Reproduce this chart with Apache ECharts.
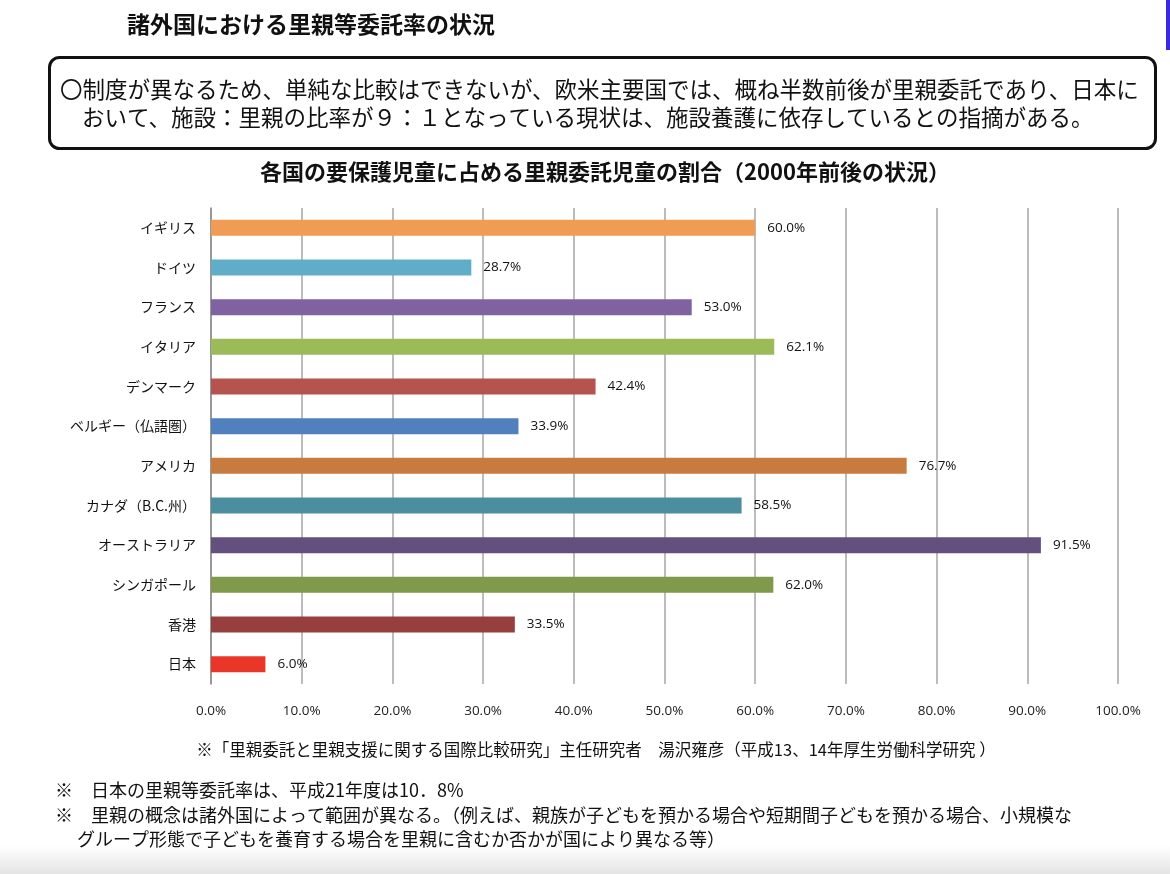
<!DOCTYPE html>
<html>
<head>
<meta charset="utf-8">
<script src="https://cdn.jsdelivr.net/npm/echarts@6/dist/echarts.min.js"></script>
<style>
html,body{margin:0;padding:0;background:#fff;}
#chart{width:1170px;height:874px;}
</style>
</head>
<body>
<div id="chart"></div>
<script>
const categories = ['イギリス','ドイツ','フランス','イタリア','デンマーク','ベルギー（仏語圏）','アメリカ','カナダ（B.C.州）','オーストラリア','シンガポール','香港','日本'];
const values = [60.0, 28.7, 53.0, 62.1, 42.4, 33.9, 76.7, 58.5, 91.5, 62.0, 33.5, 6.0];
const barColors = ['#F09C54','#5FADC9','#7F62A1','#9BBB59','#B5534F','#5080BE','#C87B3F','#4A8E9F','#63507F','#7F9A4A','#963F3E','#EA3628'];
const xTicks = [0,10,20,30,40,50,60,70,80,90,100];

const JP = '"Noto Sans CJK JP", sans-serif';
const chart = echarts.init(document.getElementById('chart'), null, {renderer:'canvas'});
chart.setOption({
  backgroundColor:'#fff',
  animation:false,
  grid:{left:211, right:52, top:208, bottom:190, containLabel:false},
  xAxis:{
    type:'value', min:xTicks[0], max:xTicks[xTicks.length-1], interval:10,
    axisLine:{show:false}, axisTick:{show:false},
    splitLine:{show:true, lineStyle:{color:'#A6A6A6', width:1.5}},
    axisLabel:{margin:20, fontSize:13.5, color:'#222', fontFamily:'"Open Sans", sans-serif',
      formatter:v=>v.toFixed(1)+'%'}
  },
  yAxis:{
    type:'category', data:categories, inverse:true,
    axisLine:{show:true, lineStyle:{color:'#8C8C8C', width:1.5}},
    axisTick:{show:false},
    axisLabel:{margin:15, fontSize:14, color:'#111', fontFamily:JP}
  },
  series:[{
    type:'bar', barWidth:16,
    data: values.map((v,i)=>({value:v, itemStyle:{color:barColors[i]}})),
    label:{show:true, position:'right', distance:12, fontSize:13.5, color:'#111',
      fontFamily:'"Open Sans", sans-serif', formatter:p=>p.value.toFixed(1)+'%'}
  }],
  graphic:[
    {type:'rect', left:0, top:846, shape:{width:1170, height:28},
      style:{fill:new echarts.graphic.LinearGradient(0,0,0,1,[{offset:0,color:'#ffffff'},{offset:1,color:'#e4e4e4'}])}, silent:true},
    {type:'rect', left:1166, top:0, shape:{width:4, height:50}, style:{fill:'#3B2BE0'}},
    {type:'text', left:127, top:13, style:{text:'諸外国における里親等委託率の状況', font:'bold 23px '+JP, fill:'#111'}},
    {type:'rect', left:48, top:56, shape:{width:1106, height:91, r:10}, style:{fill:'#fff', stroke:'#111', lineWidth:3}},
    {type:'text', left:60, top:78, style:{text:'〇制度が異なるため、単純な比較はできないが、欧米主要国では、概ね半数前後が里親委託であり、日本に', font:'22.5px '+JP, fill:'#111'}},
    {type:'text', left:82, top:106, style:{text:'おいて、施設：里親の比率が９：１となっている現状は、施設養護に依存しているとの指摘がある。', font:'22.5px '+JP, fill:'#111'}},
    {type:'text', x:605, y:172, style:{text:'各国の要保護児童に占める里親委託児童の割合（2000年前後の状況）', font:'bold 22px '+JP, fill:'#111', align:'center', verticalAlign:'middle'}},
    {type:'text', x:596, y:750, style:{text:'※「里親委託と里親支援に関する国際比較研究」主任研究者　湯沢雍彦（平成13、14年厚生労働科学研究 ）', font:'16.5px '+JP, fill:'#111', align:'center', verticalAlign:'middle'}},
    {type:'text', x:55, y:790, style:{text:'※　日本の里親等委託率は、平成21年度は10．8%', font:'18px '+JP, fill:'#111', verticalAlign:'middle'}},
    {type:'text', x:55, y:815, style:{text:'※　里親の概念は諸外国によって範囲が異なる。（例えば、親族が子どもを預かる場合や短期間子どもを預かる場合、小規模な', font:'18px '+JP, fill:'#111', verticalAlign:'middle'}},
    {type:'text', x:77, y:839, style:{text:'グループ形態で子どもを養育する場合を里親に含むか否かが国により異なる等）', font:'18px '+JP, fill:'#111', verticalAlign:'middle'}}
  ]
});
</script>
</body>
</html>
